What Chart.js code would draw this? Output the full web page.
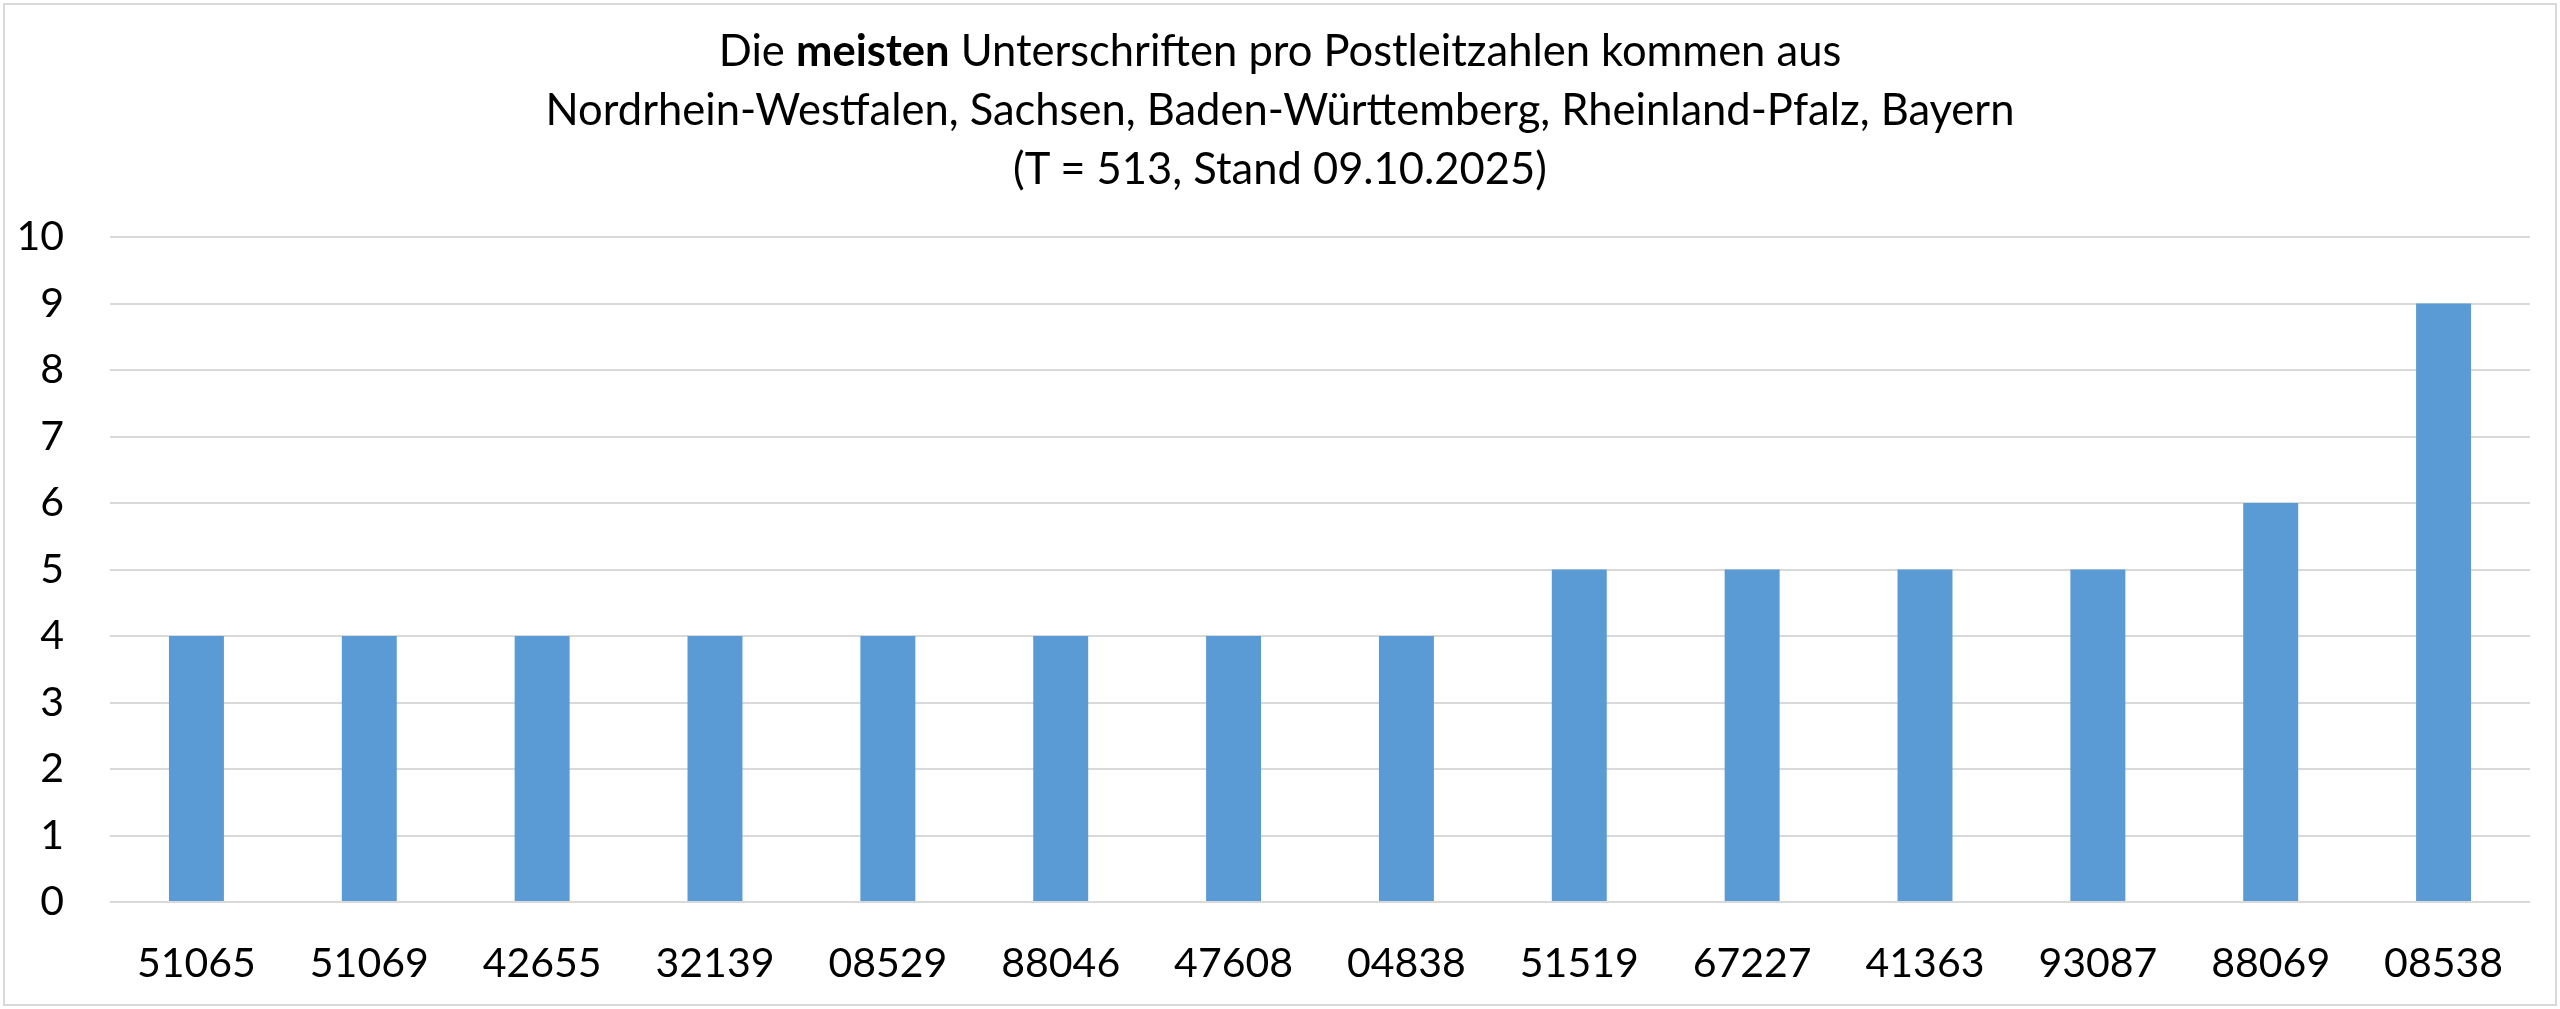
<!DOCTYPE html>
<html lang="de">
<head>
<meta charset="utf-8">
<title>Unterschriften pro Postleitzahl</title>
<script src="https://cdn.jsdelivr.net/npm/chart.js@4.4.1/dist/chart.umd.min.js"></script>
<style>
    html, body {
        margin: 0;
        padding: 0;
        background: #ffffff;
    }
    #wrap {
        position: relative;
        width: 2560px;
        height: 1009px;
        overflow: hidden;
    }
    #frame {
        position: absolute;
        left: 3px;
        top: 3px;
        width: 2550px;
        height: 999px;
        border: 2px solid #d9d9d9;
        pointer-events: none;
    }
    #title {
        position: absolute;
        left: 0;
        top: 20px;
        width: 2560px;
        text-align: center;
        font-family: Lato, 'Open Sans', sans-serif;
        font-size: 43.5px;
        line-height: 59px;
        color: #000000;
    }
    #title b { font-weight: 700; }
    canvas { position: absolute; left: 0; top: 0; }
</style>
</head>
<body>
<div id="wrap">
    <canvas id="plzChart" width="2560" height="1009"></canvas>
    <div id="title">
        Die <b>meisten</b> Unterschriften pro Postleitzahlen kommen aus<br>
        Nordrhein-Westfalen, Sachsen, Baden-Württemberg, Rheinland-Pfalz, Bayern<br>
        (T = 513, Stand 09.10.2025)
    </div>
    <div id="frame"></div>
</div>

<script>
// --- data ---
const postleitzahlen = ['51065', '51069', '42655', '32139', '08529', '88046', '47608',
                        '04838', '51519', '67227', '41363', '93087', '88069', '08538'];
const unterschriften = [4, 4, 4, 4, 4, 4, 4, 4, 5, 5, 5, 5, 6, 9];
const yTicks = [0, 1, 2, 3, 4, 5, 6, 7, 8, 9, 10];

const FONT = 'Lato';

const ctx = document.getElementById('plzChart');

new Chart(ctx, {
    type: 'bar',
    data: {
        labels: postleitzahlen,
        datasets: [{
            label: 'Unterschriften',
            data: unterschriften,
            backgroundColor: '#5b9bd5',
            borderWidth: 0,
            barPercentage: 0.318,
            categoryPercentage: 1.0
        }]
    },
    options: {
        responsive: false,
        animation: false,
        layout: {
            padding: { top: 237, right: 30, bottom: 0, left: 0 }
        },
        plugins: {
            legend: { display: false },
            tooltip: { enabled: false },
            title: { display: false }
        },
        scales: {
            x: {
                grid: { display: false, drawTicks: false },
                border: { display: false },
                ticks: {
                    color: '#000000',
                    padding: 37,
                    maxRotation: 0,
                    autoSkip: false,
                    font: { family: FONT, size: 41 }
                },
                afterFit: function(scale) {
                    scale.height = 107;
                }
            },
            y: {
                min: yTicks[0],
                max: yTicks[yTicks.length - 1],
                afterBuildTicks: function(scale) {
                    scale.ticks = yTicks.map(v => ({ value: v }));
                },
                grid: {
                    color: '#d9d9d9',
                    lineWidth: 2,
                    drawTicks: false
                },
                border: { display: false },
                ticks: {
                    color: '#000000',
                    padding: 46,
                    font: { family: FONT, size: 41 }
                },
                afterFit: function(scale) {
                    scale.width = 110;
                }
            }
        }
    }
});
</script>
</body>
</html>
